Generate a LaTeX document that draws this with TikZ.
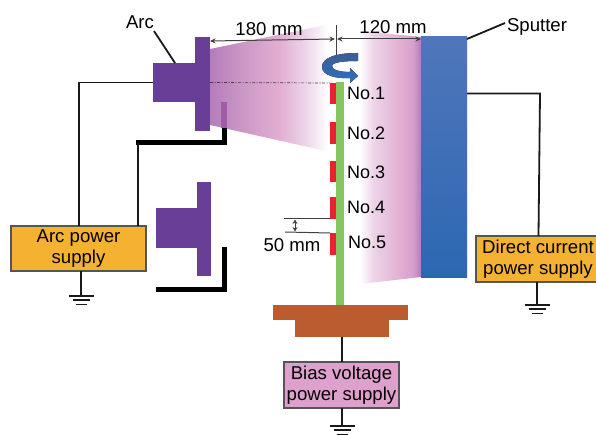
\documentclass[tikz,border=0pt]{standalone}
\usepackage{fontspec}
\setmainfont{Liberation Sans}
\usetikzlibrary{arrows.meta,calc}
\definecolor{arcpurple}{RGB}{104,62,150}
\definecolor{supplyorange}{RGB}{245,178,50}
\definecolor{biaspink}{RGB}{222,160,205}
\definecolor{basebrown}{RGB}{186,92,48}
\definecolor{rodgreen}{RGB}{132,198,96}
\definecolor{samplered}{RGB}{237,32,44}
\definecolor{edgegray}{RGB}{85,85,85}
\definecolor{stubpurple}{RGB}{160,92,165}
\definecolor{pA}{RGB}{180,125,185}
\definecolor{pB}{RGB}{203,152,198}
\definecolor{pC}{RGB}{226,175,210}
\definecolor{pD}{RGB}{236,212,232}
\definecolor{pE}{RGB}{215,160,205}
\pgfdeclarehorizontalshading{plumeA}{100bp}{color(0bp)=(pA);color(25bp)=(pA);color(38bp)=(pB);color(53bp)=(pC);color(63bp)=(pD);color(72bp)=(white);color(100bp)=(white)}
\pgfdeclarehorizontalshading{plumeB}{100bp}{color(0bp)=(white);color(25bp)=(white);color(36bp)=(pD);color(58bp)=(pC);color(68bp)=(pE);color(75bp)=(pA);color(100bp)=(pA)}
\newcommand{\rnode}[6]{\node[#2,minimum width={#5-#3},minimum height={#6-#4}] (#1) at ({(#3+#5)/2},{(#4+#6)/2}) {};}
\newcommand{\gnd}[3]{\coordinate (#1) at (#2,#3);
  \draw[wire] ($(#1)+(-12.5,0)$) -- ($(#1)+(12.5,0)$);
  \draw[wire] ($(#1)+(-8.5,4)$) -- ($(#1)+(8.5,4)$);
  \draw[wire] ($(#1)+(-5.5,8.5)$) -- ($(#1)+(5.5,8.5)$);}
\tikzset{
  x=1pt,y=-1pt,
  solid box/.style={inner sep=0pt,outer sep=0pt,fill=#1},
  supply/.style={draw=edgegray,line width=1.2pt,inner sep=0pt,outer sep=0pt,fill=#1},
  wire/.style={draw=black!90,line width=1.8pt},
  thin dim/.style={draw=black!75,line width=1pt},
  dimarrow/.style={thin dim,{Stealth[length=5.5pt,width=5pt]}-{Stealth[length=5.5pt,width=5pt]}},
  shield/.style={draw=black,line width=5pt,line join=miter},
  label/.style={inner sep=0pt,outer sep=0pt,font=\fontsize{18.6}{21}\selectfont,align=center},
  nolabel/.style={label,anchor=west,font=\fontsize{18}{21}\selectfont},
}
\begin{document}
\begin{tikzpicture}
\path[use as bounding box,clip] (0,0) rectangle (596,435);
% plumes
\shade[shading=plumeA] (210,49) -- (335,23) -- (335,153) -- (210,125) -- cycle;
\shade[shading=plumeB] (360,31) -- (421,37) -- (421,277) -- (360,284) -- cycle;
% dimension lines
\coordinate (tickTop) at (336,25);
\coordinate (tickBot) at (336,56);
\draw[thin dim] (tickTop) -- (tickBot);
% arc source, upper
\rnode{arcbody}{solid box=arcpurple}{153}{63}{196}{102}
\rnode{arcflange}{solid box=arcpurple}{195}{37}{210}{131}
% sputter
\node[inner sep=0pt,outer sep=0pt,top color={rgb,255:red,80;green,118;blue,186},bottom color={rgb,255:red,44;green,104;blue,178},minimum width=46pt,minimum height=240pt] (sputter) at (444,157) {};
% shield upper
\coordinate (shUp) at (224,128);
\coordinate (shCorner) at (224,143);
\coordinate (shLeft) at (136,143);
\draw[shield] (shUp) -- (shCorner) -- (shLeft);
\rnode{stub}{solid box=stubpurple}{221}{102}{226.5}{128}
% arc source, lower
\rnode{arcbodyB}{solid box=arcpurple}{156}{208}{198}{248}
\rnode{arcflangeB}{solid box=arcpurple}{197}{182}{211}{276}
\coordinate (shBa) at (224,247);
\coordinate (shBb) at (224,289);
\coordinate (shBc) at (156,289);
\draw[shield] (shBa) -- (shBb) -- (shBc);
% rod and samples
\rnode{rod}{solid box=rodgreen}{336}{82}{344}{306}
\rnode{s1}{solid box=samplered}{330}{83}{336}{104}
\rnode{s2}{solid box=samplered}{330}{122}{336}{144}
\rnode{s3}{solid box=samplered}{330}{161}{336}{182}
\rnode{s4}{solid box=samplered}{330}{197}{336}{219}
\rnode{s5}{solid box=samplered}{330}{233}{336}{255}
% base
\rnode{baseB}{solid box=basebrown}{295}{320}{389}{337}
\rnode{baseA}{solid box=basebrown}{273}{305}{408}{320}
% axis
\draw[black!75,line width=0.7pt,dash pattern=on 3pt off 1.5pt on 1pt off 1.5pt] (arcflange.east |- arcbody.east) -- (s1.north west);
% rotation arrow
\fill[top color={rgb,255:red,62;green,92;blue,145},bottom color={rgb,255:red,44;green,112;blue,192}]
 (358,53) .. controls (335,53) and (322,58) .. (322,67)
 .. controls (322,75) and (335,79) .. (350,78) -- (350,83) -- (358,76) -- (350,68) -- (350,72)
 .. controls (340,72) and (332,70) .. (332,66) .. controls (332,62) and (345,61) .. (358,61) -- cycle;
% supplies
\node[supply=supplyorange,minimum width=135pt,minimum height=45pt,label] (arcsupply) at (78.5,248.5) {Arc power\\supply};
\node[supply=supplyorange,minimum width=124pt,minimum height=46pt,label] (dcsupply) at (538,259) {Direct current\\power supply};
\node[supply=biaspink,minimum width=115pt,minimum height=46pt,label] (biassupply) at (341.5,385) {Bias voltage\\power supply};
% dimensions
\draw[dimarrow] (arcflange.east |- 0,41) -- (335,39);
\draw[dimarrow] (337,39) -- (sputter.west |- 0,39);
\node[label] (d180) at (269,29) {180 mm};
\node[label] (d120) at (393,27) {120 mm};
\coordinate (d50a) at (284,219); \coordinate (d50b) at (285,232);
\draw[thin dim] (d50a) -- (s4.south west);
\draw[thin dim] (d50b) -- (s5.north west);
\draw[thin dim,{Stealth[length=4.5pt,width=5pt]}-{Stealth[length=4.5pt,width=5pt]}] (295,219.5) -- (295,231.5);
\node[label] (d50) at (292,245) {50 mm};
% labels
\node[label] (arclab) at (140,22) {Arc};
\node[label] (spulab) at (537,27) {Sputter};
\coordinate (arcLeadTop) at (154,31);
\coordinate (arcLeadBot) at (175,63);
\coordinate (spuLeadA) at (467,39);
\coordinate (spuLeadB) at (505,23);
\draw[wire] (arcLeadTop) -- (arcLeadBot);
\draw[wire] (spuLeadA) -- (spuLeadB);
\node[nolabel] (n1) at (347,93) {No.1};
\node[nolabel] (n2) at (347,133) {No.2};
\node[nolabel] (n3) at (347,172) {No.3};
\node[nolabel] (n4) at (347,207) {No.4};
\node[nolabel] (n5) at (348,242) {No.5};
% wires
\coordinate (arcT1) at (79,226);
\coordinate (arcT2) at (138,226);
\coordinate (shJoin) at (138,143);
\draw[wire] (arcbody.west) -| (arcT1);
\draw[wire] (shJoin) -- (arcT2);
\coordinate (dcTop) at (540,93.5);
\coordinate (dcIn) at (538.5,236);
\draw[wire] (sputter.east |- dcTop) -- (dcTop) -- (dcIn);
\coordinate (basePin) at (342,337);
\coordinate (biasPin) at (342,362);
\draw[wire] (basePin) -- (biasPin);
% grounds
\gnd{g1}{81}{296}
\gnd{g2}{537}{305}
\gnd{g3}{342}{426}
\coordinate (g1t) at (81,271);
\coordinate (g2t) at (537,282);
\coordinate (g3t) at (342,408);
\draw[wire] (g1t) -- (g1);
\draw[wire] (g2t) -- (g2);
\draw[wire] (g3t) -- (g3);
\end{tikzpicture}
\end{document}
